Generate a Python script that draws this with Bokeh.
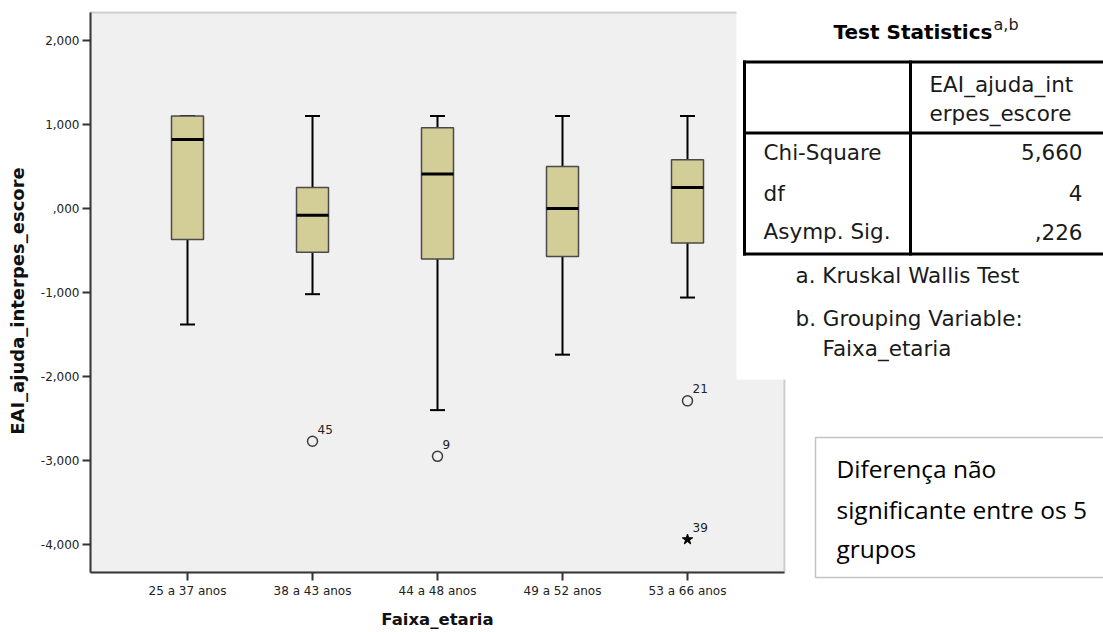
import math
from bokeh.plotting import figure
from bokeh.models import FixedTicker, Label, BoxAnnotation, Range1d
from bokeh.core.properties import value
from bokeh.embed import file_html
from bokeh.resources import INLINE

# ---- data ----
categories = ["25 a 37 anos", "38 a 43 anos", "44 a 48 anos", "49 a 52 anos", "53 a 66 anos"]
upper_whisker = [1.10, 1.10, 1.10, 1.10, 1.10]
q3 = [1.10, 0.25, 0.96, 0.50, 0.58]
median = [0.82, -0.08, 0.41, 0.00, 0.25]
q1 = [-0.37, -0.52, -0.60, -0.57, -0.41]
lower_whisker = [-1.38, -1.02, -2.40, -1.74, -1.06]

outlier_group = [2, 3, 5]
outlier_values = [-2.77, -2.95, -2.29]
outlier_ids = ["45", "9", "21"]

extreme_group = [5]
extreme_values = [-3.94]
extreme_ids = ["39"]

y_ticks = [2, 1, 0, -1, -2, -3, -4]
y_tick_labels = ["2,000", "1,000", ",000", "-1,000", "-2,000", "-3,000", "-4,000"]

stat_rows = ["Chi-Square", "df", "Asymp. Sig."]
stat_values = ["5,660", "4", ",226"]

# ---- layout ----
W, H = 1103, 632
PL, PR, PT, PB = 90, 784, 12, 572   # grey plot area in page pixels
X0, XP = 0.224, 5.776               # x values at PL and PR
Y0, YP = -4.333, 2.333              # y values at PB and PT
XS = (PR - PL) / (XP - X0)          # px per x unit
YS = (PB - PT) / (YP - Y0)          # px per y unit


def dx(cx):
    return X0 + (cx - PL) / XS


def dy(cy):
    return Y0 + (PB - cy) / YS


p = figure(width=W, height=H, x_range=Range1d(dx(0), dx(W)), y_range=Range1d(dy(H), dy(0)),
           output_backend="svg", toolbar_location=None,
           min_border_left=0, min_border_right=0, min_border_top=0, min_border_bottom=0)
p.background_fill_color = "white"
p.border_fill_color = "white"
p.outline_line_color = None
p.xgrid.visible = False
p.ygrid.visible = False

# grey plot area
p.add_layout(BoxAnnotation(left=X0, right=XP, bottom=Y0, top=YP, fill_color="#f0f0f0",
                           fill_alpha=1, line_color="#727272", line_width=2, level="underlay"))

xs = list(range(1, len(categories) + 1))
BOX_W = 0.256
CAP_W = 0.12

# whiskers
p.segment(x0=xs, y0=q3, x1=xs, y1=upper_whisker, line_color="black", line_width=2)
p.segment(x0=xs, y0=q1, x1=xs, y1=lower_whisker, line_color="black", line_width=2)
p.segment(x0=[x - CAP_W / 2 for x in xs], x1=[x + CAP_W / 2 for x in xs],
          y0=upper_whisker, y1=upper_whisker, line_color="black", line_width=2)
p.segment(x0=[x - CAP_W / 2 for x in xs], x1=[x + CAP_W / 2 for x in xs],
          y0=lower_whisker, y1=lower_whisker, line_color="black", line_width=2)
# boxes
p.vbar(x=xs, width=BOX_W, top=q3, bottom=q1, fill_color="#d3ce97",
       line_color="#4a4a4a", line_width=1.5)
# medians
p.segment(x0=[x - BOX_W / 2 for x in xs], x1=[x + BOX_W / 2 for x in xs],
          y0=median, y1=median, line_color="black", line_width=3)

# outliers
p.scatter(x=outlier_group, y=outlier_values, marker="circle", size=10,
          fill_color=None, line_color="#3c3c3c", line_width=1.5)
p.scatter(x=extreme_group, y=extreme_values, marker="star", size=11,
          fill_color="black", line_color="black")
p.text(x=outlier_group + extreme_group, y=outlier_values + extreme_values,
       text=outlier_ids + extreme_ids, x_offset=5, y_offset=-12,
       text_font=value("DejaVu Sans"), text_font_size="12px",
       text_baseline="middle", text_align="left", text_color="#222222")

# axes (drawn at the edges of the grey plot area)
p.xaxis.fixed_location = Y0
p.yaxis.fixed_location = X0
p.xaxis.bounds = (X0, XP)
p.yaxis.bounds = (Y0, YP)
p.xaxis.ticker = FixedTicker(ticks=xs)
p.xaxis.major_label_overrides = {x: c for x, c in zip(xs, categories)}
p.yaxis.ticker = FixedTicker(ticks=y_ticks)
p.yaxis.major_label_overrides = {t: l for t, l in zip(y_ticks, y_tick_labels)}
p.axis.minor_tick_line_color = None
p.axis.major_tick_out = 8
p.axis.major_tick_in = 0
p.axis.major_tick_line_width = 2
p.axis.major_tick_line_color = "#333333"
p.axis.axis_line_width = 2
p.axis.axis_line_color = "#3a3a3a"
p.axis.major_label_text_font = "DejaVu Sans"
p.axis.major_label_text_font_size = "12px"
p.axis.major_label_text_color = "#222222"
p.axis.major_label_standoff = 3


def label(cx, cy, text, size, align="left", style="normal", font="DejaVu Sans",
          color="#1a1a1a", angle=0.0):
    # (cx, cy): page position of the text's left/right/centre edge and its vertical middle
    p.add_layout(Label(x=dx(cx), y=dy(cy), text=text, text_font=font, text_font_size=size,
                       text_font_style=style, text_align=align, text_baseline="middle",
                       text_color=color, angle=angle, level="overlay"))


# axis titles
label(437, 619, "Faixa_etaria", "16.5px", align="center", style="bold", color="#111111")
label(17, 300.5, "EAI_ajuda_interpes_escore", "18px", align="center", style="bold",
      color="#111111", angle=math.pi / 2)

# ---- statistics table (overlay) ----
p.add_layout(BoxAnnotation(left=dx(736), right=dx(1110), top=dy(-5), bottom=dy(379),
                           fill_color="white", fill_alpha=1, line_color=None, level="overlay"))


def hline(cx0, cx1, cy, w):
    p.add_layout(BoxAnnotation(left=dx(cx0), right=dx(cx1), top=dy(cy - w / 2), bottom=dy(cy + w / 2),
                               fill_color="black", fill_alpha=1, line_color=None, level="overlay"))


def vline(cx, cy0, cy1, w):
    p.add_layout(BoxAnnotation(left=dx(cx - w / 2), right=dx(cx + w / 2), top=dy(cy0), bottom=dy(cy1),
                               fill_color="black", fill_alpha=1, line_color=None, level="overlay"))


hline(742.5, 1110, 61.5, 3)
hline(742.5, 1110, 253.5, 3)
hline(742.5, 1110, 132.5, 3)
vline(744, 60, 255, 3)
vline(910, 60, 255, 3)

label(833, 31, "Test Statistics", "20px", style="bold", color="black")
label(993, 24, "a,b", "16px")
label(929, 84, "EAI_ajuda_int", "21.5px")
label(929, 112.5, "erpes_escore", "21.5px")
for name, val, mid in zip(stat_rows, stat_values, [151.5, 192.5, 231]):
    label(763, mid, name, "21.5px")
    label(1082, mid, val, "21.5px", align="right")
label(795, 275, "a. Kruskal Wallis Test", "21.5px")
label(795, 318, "b. Grouping Variable:", "21.5px")
label(822, 348, "Faixa_etaria", "21.5px")

# ---- note box ----
p.add_layout(BoxAnnotation(left=dx(815), right=dx(1115), top=dy(437), bottom=dy(577),
                           fill_color="white", fill_alpha=1, line_color="#3a3a3a",
                           line_width=1.5, level="overlay"))
for line, mid in zip(["Diferença não", "significante entre os 5", "grupos"], [467.5, 509, 548]):
    label(836, mid, line, "24.5px", font="Open Sans", color="black")

open("out.html", "w").write(file_html(p, INLINE))
